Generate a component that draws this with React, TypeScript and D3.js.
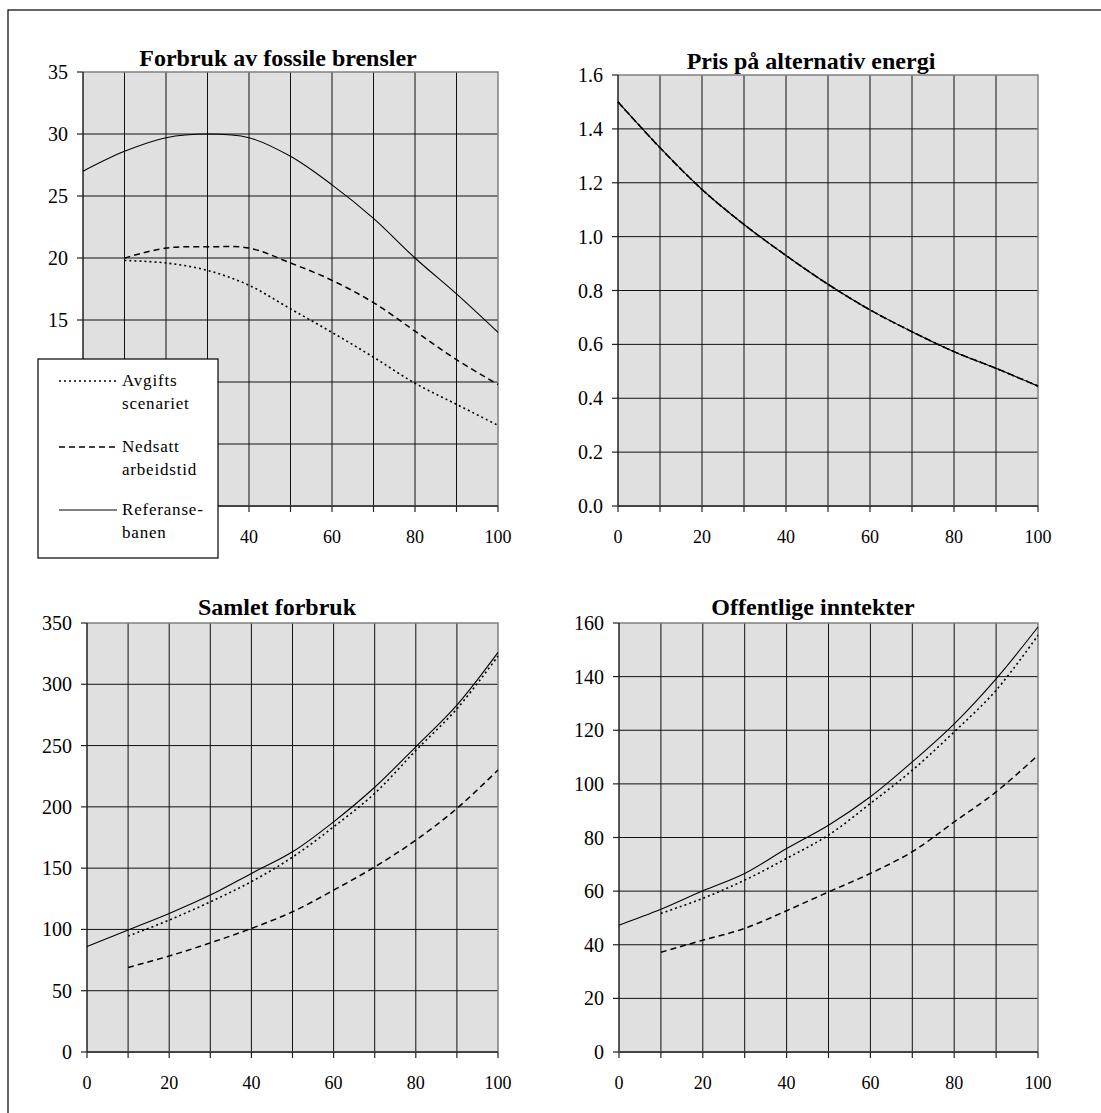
import React from "react";
import * as d3 from "d3";

const width = 1101;
const height = 1113;

// years on the x axis
const yearsAll = [0, 10, 20, 30, 40, 50, 60, 70, 80, 90, 100];
const yearsFrom10 = [10, 20, 30, 40, 50, 60, 70, 80, 90, 100];
const xTicks = [0, 20, 40, 60, 80, 100];

// Forbruk av fossile brensler
const fossilRef = [27.0, 28.6, 29.7, 30.0, 29.7, 28.2, 25.9, 23.2, 20.0, 17.1, 14.0];
const fossilNed = [20.0, 20.8, 20.9, 20.8, 19.6, 18.2, 16.4, 14.1, 11.8, 9.8];
const fossilAvg = [19.8, 19.6, 19.0, 17.8, 15.9, 14.0, 12.0, 9.9, 8.2, 6.5];

// Pris på alternativ energi (all three scenarios overlap)
const altPrice = [1.5, 1.33, 1.175, 1.045, 0.93, 0.823, 0.728, 0.647, 0.573, 0.511, 0.445];

// Samlet forbruk
const consRef = [86, 99.5, 113, 128, 145.7, 163.3, 187.8, 216, 249, 283, 326];
const consAvg = [94.6, 107.6, 122.5, 139, 159, 183.7, 211, 246, 280, 323];
const consNed = [69, 78.3, 89, 100.8, 114.4, 132, 151, 172.8, 198.7, 230];

// Offentlige inntekter
const revRef = [47.3, 53.2, 60.1, 66.6, 75.9, 84.6, 95.2, 108.2, 122.4, 139.2, 158.5];
const revAvg = [51.7, 57.3, 64.1, 72.2, 80.9, 92.7, 105.1, 119.4, 134.9, 155.4];
const revNed = [37.2, 41.7, 46.1, 52.7, 59.7, 66.6, 74.7, 85.8, 97, 110.7];

const legendItems = [
  { lines: ["Avgifts", "scenariet"], dash: "2,3", sw: 1.6 },
  { lines: ["Nedsatt", "arbeidstid"], dash: "6,4", sw: 1.6 },
  { lines: ["Referanse-", "banen"], dash: null, sw: 1 },
];

const font = "Liberation Serif, DejaVu Serif, Times New Roman, serif";

const styles = {
  ref: { dash: null, sw: 1.1 },
  avg: { dash: "2,3", sw: 1.6 },
  ned: { dash: "6,4", sw: 1.5 },
};

const pair = (xs, ys) => ys.map((v, i) => [xs[i], v]);

const panels = [
  {
    title: "Forbruk av fossile brensler",
    box: { left: 83, right: 498, top: 72, bottom: 506 },
    titleX: 278, titleY: 66,
    yMax: 35, yStep: 5, fmt: (d) => String(d),
    hiddenX: [0, 20], // covered by the legend
    series: [
      { pts: pair(yearsAll, fossilRef), ...styles.ref },
      { pts: pair(yearsFrom10, fossilNed), ...styles.ned },
      { pts: pair(yearsFrom10, fossilAvg), ...styles.avg },
    ],
  },
  {
    title: "Pris på alternativ energi",
    box: { left: 618, right: 1038, top: 75, bottom: 506 },
    titleX: 811, titleY: 69,
    yMax: 1.6, yStep: 0.2, fmt: d3.format(".1f"),
    hiddenX: [],
    series: [
      { pts: pair(yearsAll, altPrice), ...styles.ref },
      { pts: pair(yearsAll, altPrice), ...styles.ned },
      { pts: pair(yearsAll, altPrice), ...styles.avg },
    ],
  },
  {
    title: "Samlet forbruk",
    box: { left: 87, right: 498, top: 623, bottom: 1052 },
    titleX: 277, titleY: 615,
    yMax: 350, yStep: 50, fmt: (d) => String(d),
    hiddenX: [],
    series: [
      { pts: pair(yearsAll, consRef), ...styles.ref },
      { pts: pair(yearsFrom10, consAvg), ...styles.avg },
      { pts: pair(yearsFrom10, consNed), ...styles.ned },
    ],
  },
  {
    title: "Offentlige inntekter",
    box: { left: 619, right: 1038, top: 623, bottom: 1052 },
    titleX: 813, titleY: 615,
    yMax: 160, yStep: 20, fmt: (d) => String(d),
    hiddenX: [],
    series: [
      { pts: pair(yearsAll, revRef), ...styles.ref },
      { pts: pair(yearsFrom10, revAvg), ...styles.avg },
      { pts: pair(yearsFrom10, revNed), ...styles.ned },
    ],
  },
];

const Panel = ({ p }) => {
  const { left, right, top, bottom } = p.box;
  const x = d3.scaleLinear().domain([0, 100]).range([left, right]);
  const y = d3.scaleLinear().domain([0, p.yMax]).range([bottom, top]);
  const yTicks = d3.range(0, p.yMax + p.yStep / 2, p.yStep);
  const gridX = d3.range(10, 100, 10);
  const line = d3
    .line()
    .x((d) => x(d[0]))
    .y((d) => y(d[1]))
    .curve(d3.curveCatmullRom);

  return (
    <g>
      <rect x={left} y={top} width={right - left} height={bottom - top} fill="#e0e0e0" />
      {gridX.map((v) => (
        <line key={"gx" + v} x1={x(v)} x2={x(v)} y1={top} y2={bottom} stroke="#111" strokeWidth={1} />
      ))}
      {yTicks.slice(1, -1).map((v) => (
        <line key={"gy" + v} x1={left} x2={right} y1={y(v)} y2={y(v)} stroke="#111" strokeWidth={1} />
      ))}
      {/* top and right frame in gray */}
      <path d={`M${left},${top}H${right}V${bottom}`} fill="none" stroke="#808080" strokeWidth={1.5} />
      {/* axes */}
      <line x1={left} x2={left} y1={top} y2={bottom} stroke="#222" strokeWidth={1.5} />
      <line x1={left} x2={right} y1={bottom} y2={bottom} stroke="#444" strokeWidth={1.8} />
      {yTicks.map((v) => (
        <g key={"yt" + v}>
          <line x1={left - 6} x2={left} y1={y(v)} y2={y(v)} stroke="#222" strokeWidth={1.2} />
          <text x={left - 15} y={y(v) + 7} textAnchor="end" fontSize={20} fontFamily={font}>
            {p.fmt(v)}
          </text>
        </g>
      ))}
      {d3.range(0, 101, 10).map((v) => (
        <line key={"xt" + v} x1={x(v)} x2={x(v)} y1={bottom} y2={bottom + 6} stroke="#222" strokeWidth={1.2} />
      ))}
      {xTicks
        .filter((v) => !p.hiddenX.includes(v))
        .map((v) => (
          <text key={"xl" + v} x={x(v)} y={bottom + 37} textAnchor="middle" fontSize={18} fontFamily={font}>
            {v}
          </text>
        ))}
      {p.series.map((s, i) => (
        <path
          key={i}
          d={line(s.pts)}
          fill="none"
          stroke="#000"
          strokeWidth={s.sw}
          strokeDasharray={s.dash || undefined}
        />
      ))}
      <text x={p.titleX} y={p.titleY} textAnchor="middle" fontSize={24} fontWeight="bold" fontFamily={font}>
        {p.title}
      </text>
    </g>
  );
};

const Legend = () => {
  const lx = 38, ly = 359, lw = 180, lh = 199;
  const rowY = [381, 447, 510];
  return (
    <g>
      <rect x={lx} y={ly} width={lw} height={lh} fill="#fff" stroke="#000" strokeWidth={1.2} />
      {legendItems.map((it, i) => (
        <g key={i}>
          <line
            x1={59}
            x2={117}
            y1={rowY[i]}
            y2={rowY[i]}
            stroke="#000"
            strokeWidth={it.sw}
            strokeDasharray={it.dash || undefined}
          />
          {it.lines.map((t, j) => (
            <text
              key={j}
              x={122}
              y={rowY[i] + 5 + j * 23}
              fontSize={17}
              letterSpacing={0.8}
              fontFamily={font}
            >
              {t}
            </text>
          ))}
        </g>
      ))}
    </g>
  );
};

export default function App() {
  return (
    <svg width={width} height={height} style={{ position: "absolute", left: 0, top: 0 }}>
      <rect x={0} y={0} width={width} height={height} fill="#fff" />
      <rect x={8} y={10} width={1300} height={1300} fill="none" stroke="#000" strokeWidth={1.2} />
      {panels.map((p, i) => (
        <Panel key={i} p={p} />
      ))}
      <Legend />
    </svg>
  );
}
